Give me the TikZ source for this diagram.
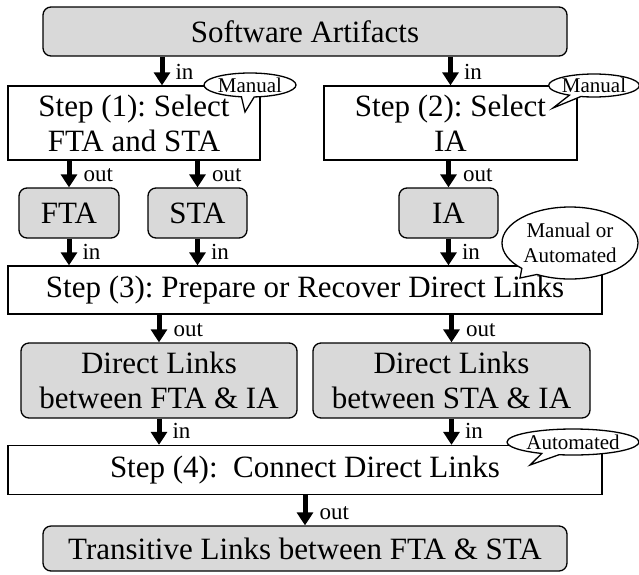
\documentclass[tikz,border=0pt]{standalone}
\usepackage{fontspec}
\setmainfont{Liberation Serif}
\usetikzlibrary{arrows.meta,shapes.callouts}

\definecolor{boxgray}{RGB}{217,217,217}

\tikzset{
  base/.style={draw=black, line width=1.3pt, inner sep=0pt, align=center,
               font=\fontsize{31}{35}\selectfont\frenchspacing},
  stepbox/.style={base, fill=white},
  artbox/.style={base, fill=boxgray, rounded corners=8pt},
  flow/.style={line width=5pt, -{Triangle[width=16pt,length=13pt]}},
  tag/.style={font=\fontsize{23}{23}\selectfont, anchor=base west, inner sep=0pt},
  bubble/.style={ellipse callout, draw=black, line width=1.3pt, fill=white,
                 inner sep=0pt, align=center, callout pointer arc=16,
                 font=\fontsize{21}{25}\selectfont},
}

\begin{document}
\begin{tikzpicture}[x=1pt,y=-1pt]
\useasboundingbox (0,0) rectangle (639,574);

% artifact and step boxes
\node[artbox, minimum width=524, minimum height=49] (sa) at (305,31.5) {Software Artifacts};
\node[stepbox, minimum width=252, minimum height=74] (step1) at (134,123) {Step (1): Select\\FTA and STA};
\node[stepbox, minimum width=253, minimum height=74] (step2) at (450.5,123) {Step (2): Select\\IA};
\node[artbox, minimum width=100, minimum height=50] (fta) at (69,213) {FTA};
\node[artbox, minimum width=99, minimum height=50] (sta) at (197.5,213) {STA};
\node[artbox, minimum width=99, minimum height=50] (ia) at (448.5,213) {IA};
\node[stepbox, minimum width=594, minimum height=48] (step3) at (305,290) {Step (3): Prepare or Recover Direct Links};
\node[artbox, minimum width=276, minimum height=75] (dl1) at (159,380.5) {Direct Links\\between FTA \& IA};
\node[artbox, minimum width=277, minimum height=75] (dl2) at (451.5,380.5) {Direct Links\\between STA \& IA};
\node[stepbox, minimum width=594, minimum height=49] (step4) at (305,470) {Step (4):\ \ Connect Direct Links};
\node[artbox, minimum width=524, minimum height=45] (final) at (305,548.5) {Transitive Links between FTA \& STA};

% data flow
\coordinate (in1) at ([xshift=28pt]step1.north);
\draw[flow] (in1 |- sa.south) -- (in1) node[pos=1, tag, xshift=11pt, yshift=6pt] {in};
\draw[flow] (step2.north |- sa.south) -- (step2.north) node[pos=1, tag, xshift=11pt, yshift=6pt] {in};
\draw[flow] (fta.north |- step1.south) -- (fta.north) node[pos=1, tag, xshift=12pt, yshift=6pt] {out};
\draw[flow] (sta.north |- step1.south) -- (sta.north) node[pos=1, tag, xshift=12pt, yshift=6pt] {out};
\draw[flow] (ia.north |- step2.south) -- (ia.north) node[pos=1, tag, xshift=12pt, yshift=6pt] {out};
\draw[flow] (fta.south) -- (fta.south |- step3.north) node[pos=1, tag, xshift=11pt, yshift=6pt] {in};
\draw[flow] (sta.south) -- (sta.south |- step3.north) node[pos=1, tag, xshift=11pt, yshift=6pt] {in};
\draw[flow] (ia.south) -- (ia.south |- step3.north) node[pos=1, tag, xshift=11pt, yshift=6pt] {in};
\draw[flow] (dl1.north |- step3.south) -- (dl1.north) node[pos=1, tag, xshift=12pt, yshift=6pt] {out};
\draw[flow] (dl2.north |- step3.south) -- (dl2.north) node[pos=1, tag, xshift=12pt, yshift=6pt] {out};
\draw[flow] (dl1.south) -- (dl1.south |- step4.north) node[pos=1, tag, xshift=11pt, yshift=6pt] {in};
\draw[flow] (dl2.south) -- (dl2.south |- step4.north) node[pos=1, tag, xshift=11pt, yshift=6pt] {in};
\draw[flow] (step4.south) -- (final.north) node[pos=1, tag, xshift=12pt, yshift=6pt] {out};

% how each step is carried out
\node[bubble, minimum width=92, minimum height=24, callout absolute pointer={(245,112)}] (b1) at (250,85) {Manual};
\node[bubble, minimum width=89, minimum height=23, callout absolute pointer={(553,108)}] (b2) at (594,85.5) {Manual};
\node[bubble, minimum width=136, minimum height=72, callout absolute pointer={(520,278)}] (b3) at (570,243) {Manual or\\Automated};
\node[bubble, minimum width=130, minimum height=26, callout absolute pointer={(530,465)}] (b4) at (573,442) {Automated};
\end{tikzpicture}
\end{document}
